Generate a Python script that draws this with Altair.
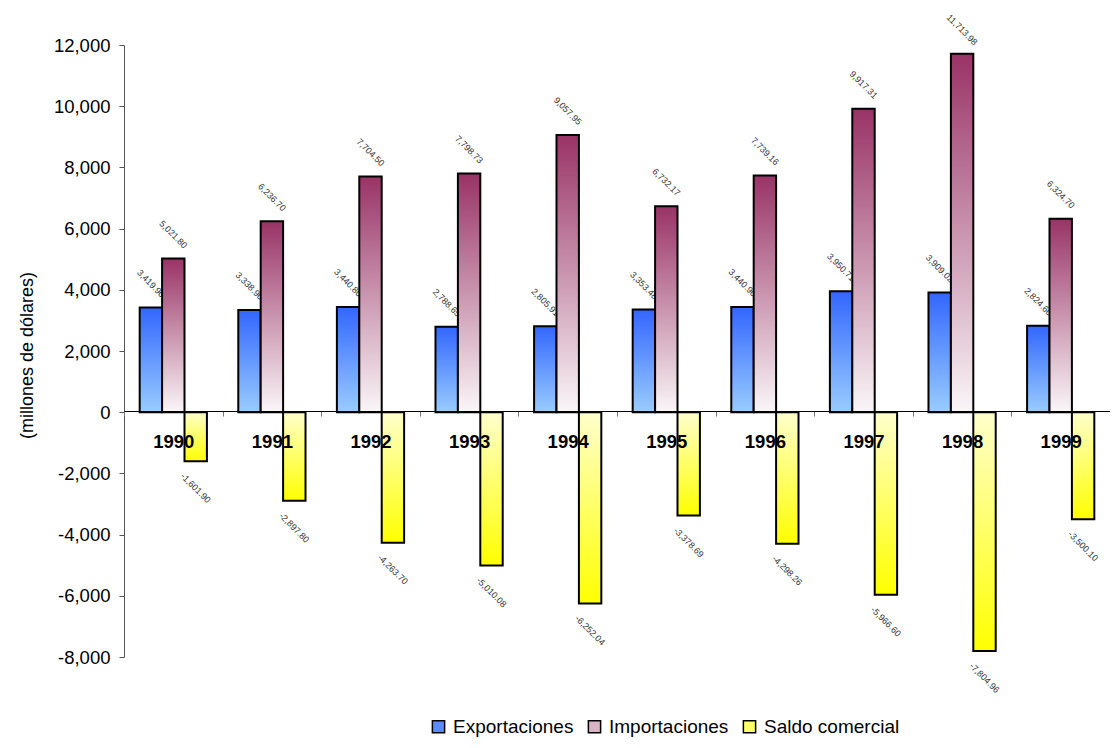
import altair as alt
import pandas as pd

years = ["1990", "1991", "1992", "1993", "1994", "1995", "1996", "1997", "1998", "1999"]
exportaciones = [3419.90, 3338.90, 3440.80, 2788.65, 2805.91, 3353.48, 3440.90, 3950.71, 3909.02, 2824.60]
importaciones = [5021.80, 6236.70, 7704.50, 7798.73, 9057.95, 6732.17, 7739.16, 9917.31, 11713.98, 6324.70]
saldo = [-1601.90, -2897.80, -4263.70, -5010.08, -6252.04, -3378.69, -4298.26, -5966.60, -7804.96, -3500.10]
series = ["Exportaciones", "Importaciones", "Saldo comercial"]
y_ticks = [-8000, -6000, -4000, -2000, 0, 2000, 4000, 6000, 8000, 10000, 12000]

rows = []
for i, yr in enumerate(years):
    for s, vals in zip(series, [exportaciones, importaciones, saldo]):
        v = vals[i]
        rows.append({"year": yr, "serie": s, "value": v, "label": f"{v:,.2f}"})
df = pd.DataFrame(rows)

FONT = "Liberation Sans"

x_enc = alt.X(
    "year:N",
    sort=years,
    scale=alt.Scale(paddingInner=0, paddingOuter=0),
    axis=alt.Axis(
        title=None, orient="bottom", offset=-246, zindex=2, grid=False,
        labelFont=FONT, labelFontSize=18.5, labelFontWeight="bold", labelColor="black",
        labelAngle=0, labelPadding=16, tickSize=5, tickBand="extent",
        tickColor="#777777", domainColor="black", domainWidth=1,
    ),
)
y_enc = alt.Y(
    "value:Q",
    scale=alt.Scale(domain=[-8000, 12000], nice=False),
    axis=alt.Axis(
        values=y_ticks,
        labelExpr="replace(format(datum.value, ',.0f'), '\u2212', '-')",
        title="(millones de dólares)", titleX=-97, titleY=310, titleAngle=-90,
        titleAlign="center", titleBaseline="middle", titleFont=FONT,
        titleFontSize=18, titleFontWeight="normal", titleColor="black",
        labelFont=FONT, labelFontSize=18.5, labelColor="black", labelPadding=9,
        tickSize=5, tickColor="#555555", domainColor="#555555", grid=False,
    ),
)
xo = alt.XOffset("serie:N", scale=alt.Scale(domain=series, paddingInner=0, paddingOuter=0.7))

base = alt.Chart(df)

def grad(top, bottom):
    return alt.LinearGradient(
        gradient="linear", x1=0, x2=0, y1=0, y2=1,
        stops=[alt.GradientStop(color=top, offset=0), alt.GradientStop(color=bottom, offset=1)],
    )

gradients = {
    "Exportaciones": grad("#3366ff", "#99ccff"),
    "Importaciones": grad("#993366", "#faf6f8"),
    "Saldo comercial": grad("#ffffcc", "#ffff00"),
}

text_pos = base.transform_filter(alt.datum.value > 0).mark_text(
    angle=45, align="center", baseline="middle", dx=-17, dy=-17,
    font=FONT, fontSize=9, color="#333333",
).encode(x=x_enc, y=y_enc, xOffset=xo, text="label:N")

text_neg = base.transform_filter(alt.datum.value < 0).mark_text(
    angle=45, align="center", baseline="middle", dx=19, dy=19,
    font=FONT, fontSize=9, color="#333333",
).encode(x=x_enc, y=y_enc, xOffset=xo, text="label:N")

bars = []
for s in series:
    bars.append(
        base.transform_filter(alt.datum.serie == s)
        .mark_bar(fill=gradients[s], stroke="black", strokeWidth=2)
        .encode(x=x_enc, y=y_enc, xOffset=xo)
    )

legend_layer = base.mark_point(opacity=0, filled=True, shape="square").encode(
    x=x_enc, y=y_enc, xOffset=xo,
    color=alt.Color(
        "serie:N",
        scale=alt.Scale(domain=series, range=["#5a8cff", "#d8b4c6", "#ffff66"]),
        legend=alt.Legend(
            orient="none", legendX=305, legendY=672, direction="horizontal", title=None,
            symbolType="square", symbolSize=150, symbolOpacity=1,
            symbolStrokeColor="black", symbolStrokeWidth=1.5,
            labelFont=FONT, labelFontSize=19, labelColor="black",
            columnPadding=11, labelOffset=5,
        ),
    ),
)

chart = alt.layer(text_pos, text_neg, *bars, legend_layer).properties(
    width=986, height=612, background="white",
    autosize=alt.AutoSizeParams(type="none"),
    padding={"left": 116, "top": 37, "right": 0, "bottom": 80},
).configure_view(stroke=None).configure_axis(grid=False)

chart.save("out.html", embed_options={"renderer": "svg", "actions": False})
